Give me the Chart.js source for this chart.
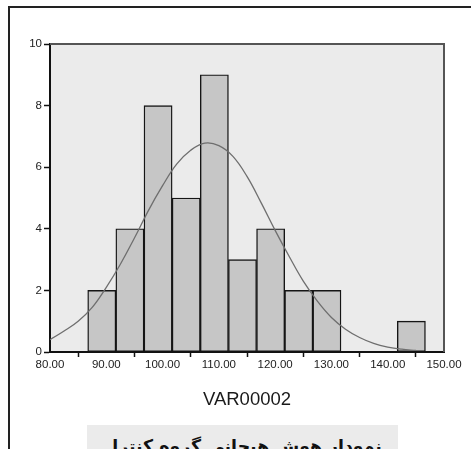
<!DOCTYPE html>
<html>
<head>
<meta charset="utf-8">
<script src="https://cdn.jsdelivr.net/npm/chart.js@4.4.1/dist/chart.umd.min.js"></script>
<style>
  html, body { margin: 0; padding: 0; background: #fff; }
  body { width: 471px; height: 449px; overflow: hidden; position: relative; }
  #frame { position: absolute; left: 8px; top: 6px; width: 480px; height: 460px;
           border-top: 2px solid #222; border-left: 2px solid #222; }
  #wrap { position: absolute; left: 0; top: 0; width: 471px; height: 449px; }
  #title { position: absolute; left: 87px; top: 425px; width: 311px; height: 40px;
           background: #ebebeb; overflow: hidden; }
  #ttext { position: absolute; left: 0; top: 0; width: 311px; text-align: center;
           font-family: "DejaVu Sans", sans-serif; font-weight: bold; font-size: 24px;
           line-height: 30px; direction: rtl; color: #111; white-space: nowrap; }
</style>
</head>
<body>
<div id="frame"></div>
<div id="wrap"><canvas id="c" width="471" height="449"></canvas></div>
<div id="title"><div id="ttext">نمودار هوش هیجانی گروه کنترل</div></div>
<script>
// Histogram bins (centers) and counts
const binCenters = [89.2, 94.2, 99.2, 104.2, 109.2, 114.2, 119.2, 124.2, 129.2, 144.2];
const counts     = [2, 4, 8, 5, 9, 3, 4, 2, 2, 1];
// Fitted normal curve
const curveX = [80, 82.5, 85, 87.5, 90, 92.5, 95, 97.5, 100, 102.5, 105, 107.5, 110, 112.5, 115, 117.5, 120, 122.5, 125, 127.5, 130, 132.5, 135, 137.5, 140, 142.5, 145];
const curveY = [0.40, 0.68, 1.00, 1.45, 2.10, 2.85, 3.70, 4.60, 5.40, 6.10, 6.55, 6.78, 6.70, 6.35, 5.70, 4.85, 3.95, 3.10, 2.30, 1.65, 1.12, 0.74, 0.47, 0.28, 0.16, 0.09, 0.05];
// Tick labels
const xTicks = [80, 90, 100, 110, 120, 130, 140, 150];
const yTicks = [0, 2, 4, 6, 8, 10];
const xTitle = 'VAR00002';

// Fit the bottom caption: width ~279px, tallest glyph top at y=436 (11px into the box)
(function fitTitle() {
  const el = document.getElementById('ttext');
  const txt = el.textContent;
  const cv = document.createElement('canvas').getContext('2d');
  const fam = '"DejaVu Sans", sans-serif';
  cv.font = 'bold 100px ' + fam;
  const m100 = cv.measureText(txt);
  const size = 279 / m100.width * 100;
  cv.font = 'bold ' + size + 'px ' + fam;
  const m = cv.measureText(txt);
  const L = 30;
  const fA = m.fontBoundingBoxAscent, fD = m.fontBoundingBoxDescent;
  const baselineInLine = (L - (fA + fD)) / 2 + fA;
  const top = 11 + m.actualBoundingBoxAscent - baselineInLine;
  el.style.fontSize = size + 'px';
  el.style.lineHeight = L + 'px';
  el.style.top = top + 'px';
})();

const plotBg = {
  id: 'plotBg',
  beforeDraw(chart) {
    const {ctx, chartArea: a} = chart;
    ctx.save();
    ctx.fillStyle = '#ebebeb';
    ctx.fillRect(a.left, a.top, a.right - a.left, a.bottom - a.top);
    ctx.restore();
  },
  afterDraw(chart) {
    const {ctx, chartArea: a} = chart;
    ctx.save();
    ctx.strokeStyle = '#555';
    ctx.lineWidth = 2;
    ctx.beginPath();
    ctx.moveTo(a.left, a.top);
    ctx.lineTo(a.right, a.top);
    ctx.lineTo(a.right, a.bottom);
    ctx.stroke();
    ctx.restore();
  }
};

new Chart(document.getElementById('c'), {
  type: 'bar',
  data: {
    datasets: [
      {
        type: 'line',
        data: curveX.map((x, i) => ({x, y: curveY[i]})),
        borderColor: '#6e6e6e',
        borderWidth: 1.3,
        pointRadius: 0,
        tension: 0.4,
        fill: false,
        order: 0
      },
      {
        type: 'bar',
        data: binCenters.map((x, i) => ({x, y: counts[i]})),
        backgroundColor: '#c6c6c6',
        borderColor: '#151515',
        borderWidth: 1.4,
        borderSkipped: false,
        barPercentage: 1,
        categoryPercentage: 1,
        order: 1
      }
    ]
  },
  options: {
    responsive: false,
    animation: false,
    events: [],
    layout: { padding: { left: 8, top: 44, right: 27, bottom: 37 } },
    plugins: { legend: { display: false }, tooltip: { enabled: false }, title: { display: false } },
    scales: {
      x: {
        type: 'linear',
        min: 80, max: 150,
        offset: false,
        afterBuildTicks: s => { s.ticks = xTicks.map(v => ({value: v})); },
        afterFit: s => { s.height = 60; },
        ticks: {
          callback: v => Number(v).toFixed(2),
          font: { family: '"Liberation Sans", Arial, sans-serif', size: 11.5 },
          color: '#222',
          padding: 1,
          maxRotation: 0,
          autoSkip: false
        },
        grid: { drawOnChartArea: false, drawTicks: true, tickLength: 5, tickColor: '#111', tickWidth: 1.5 },
        border: { display: true, color: '#111', width: 2 },
        title: {
          display: true, text: xTitle, color: '#1a1a1a',
          font: { family: '"Liberation Sans", Arial, sans-serif', size: 18.5 },
          padding: { top: 4, bottom: 1 }
        }
      },
      y: {
        min: 0, max: 10,
        afterBuildTicks: s => { s.ticks = yTicks.map(v => ({value: v})); },
        afterFit: s => { s.width = 42; },
        ticks: {
          font: { family: '"Liberation Sans", Arial, sans-serif', size: 11.5 },
          color: '#222',
          padding: 2
        },
        grid: { drawOnChartArea: false, drawTicks: true, tickLength: 6, tickColor: '#111', tickWidth: 1.5 },
        border: { display: true, color: '#111', width: 2 }
      }
    }
  },
  plugins: [plotBg]
});
</script>
</body>
</html>
